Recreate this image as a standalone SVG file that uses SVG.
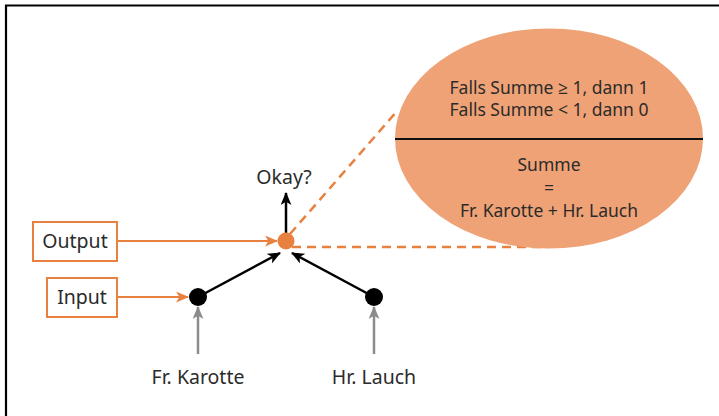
<svg xmlns="http://www.w3.org/2000/svg" width="719" height="416" viewBox="0 0 719 416">
  <style>
    text { font-family: "Noto Sans", "Open Sans", sans-serif; font-size: 17.5px; fill: #2b2b2b; text-anchor: middle; }
    text.lbl { font-size: 19.5px; }
    .frame { stroke: #000; stroke-width: 2.2; fill: none; }
    .box { fill: #fff; stroke: #e8803f; stroke-width: 2; }
    .orange { stroke: #e8803f; stroke-width: 2; fill: none; }
    .dash { stroke: #e8803f; stroke-width: 2.5; fill: none; stroke-dasharray: 9 6; }
    .black { stroke: #000; stroke-width: 2.5; fill: none; }
    .gray { stroke: #8c8c8c; stroke-width: 2.5; fill: none; }
  </style>
  <defs>
    <marker id="arrOrange" viewBox="0 0 12 10" refX="11" refY="5" markerWidth="13" markerHeight="11" markerUnits="userSpaceOnUse" orient="auto">
      <path d="M0,0 L12,5 L0,10 L3,5 Z" fill="#e8803f"/>
    </marker>
    <marker id="arrBlack" viewBox="0 0 12 10" refX="11" refY="5" markerWidth="13" markerHeight="11" markerUnits="userSpaceOnUse" orient="auto">
      <path d="M0,0 L12,5 L0,10 L3,5 Z" fill="#000"/>
    </marker>
    <marker id="arrGray" viewBox="0 0 12 10" refX="11" refY="5" markerWidth="13" markerHeight="11" markerUnits="userSpaceOnUse" orient="auto">
      <path d="M0,0 L12,5 L0,10 L3,5 Z" fill="#8c8c8c"/>
    </marker>
  </defs>

  <!-- page frame: top and left rules -->
  <path class="frame" d="M6,416 V5.5 H719"/>

  <!-- connectors -->
  <g id="connectors">
    <path class="dash" d="M290,234 L398,110"/>
    <path class="dash" d="M292,247 H548"/>
    <path class="orange" d="M117,241 H277" marker-end="url(#arrOrange)"/>
    <path class="orange" d="M117,297 H188" marker-end="url(#arrOrange)"/>
    <path class="black" d="M286,233 V193" marker-end="url(#arrBlack)"/>
    <path class="black" d="M198,297 L280,253" marker-end="url(#arrBlack)"/>
    <path class="black" d="M374,297 L292,253" marker-end="url(#arrBlack)"/>
    <path class="gray" d="M198,354 V307" marker-end="url(#arrGray)"/>
    <path class="gray" d="M374,354 V307" marker-end="url(#arrGray)"/>
  </g>

  <!-- activation rule -->
  <g id="rule">
    <ellipse cx="549" cy="138.5" rx="154" ry="110" fill="#efa275"/>
    <line x1="395" y1="139" x2="703" y2="139" stroke="#111" stroke-width="2"/>
    <text x="549" y="94">Falls Summe ≥ 1, dann 1</text>
    <text x="549" y="116">Falls Summe &lt; 1, dann 0</text>
    <text x="549" y="171">Summe</text>
    <text x="549" y="194">=</text>
    <text x="549" y="217">Fr. Karotte + Hr. Lauch</text>
  </g>

  <g id="output-label">
    <rect class="box" x="33" y="222" width="84" height="39"/>
    <text class="lbl" x="75" y="248">Output</text>
  </g>
  <g id="input-label">
    <rect class="box" x="47" y="278" width="70" height="39"/>
    <text class="lbl" x="82" y="304">Input</text>
  </g>

  <g id="okay">
    <circle cx="286" cy="241" r="8.5" fill="#e8803f"/>
    <text class="lbl" x="284" y="184">Okay?</text>
  </g>
  <g id="karotte">
    <circle cx="198" cy="297" r="9" fill="#000"/>
    <text class="lbl" x="198" y="384">Fr. Karotte</text>
  </g>
  <g id="lauch">
    <circle cx="374" cy="297" r="9" fill="#000"/>
    <text class="lbl" x="374" y="384">Hr. Lauch</text>
  </g>
</svg>
